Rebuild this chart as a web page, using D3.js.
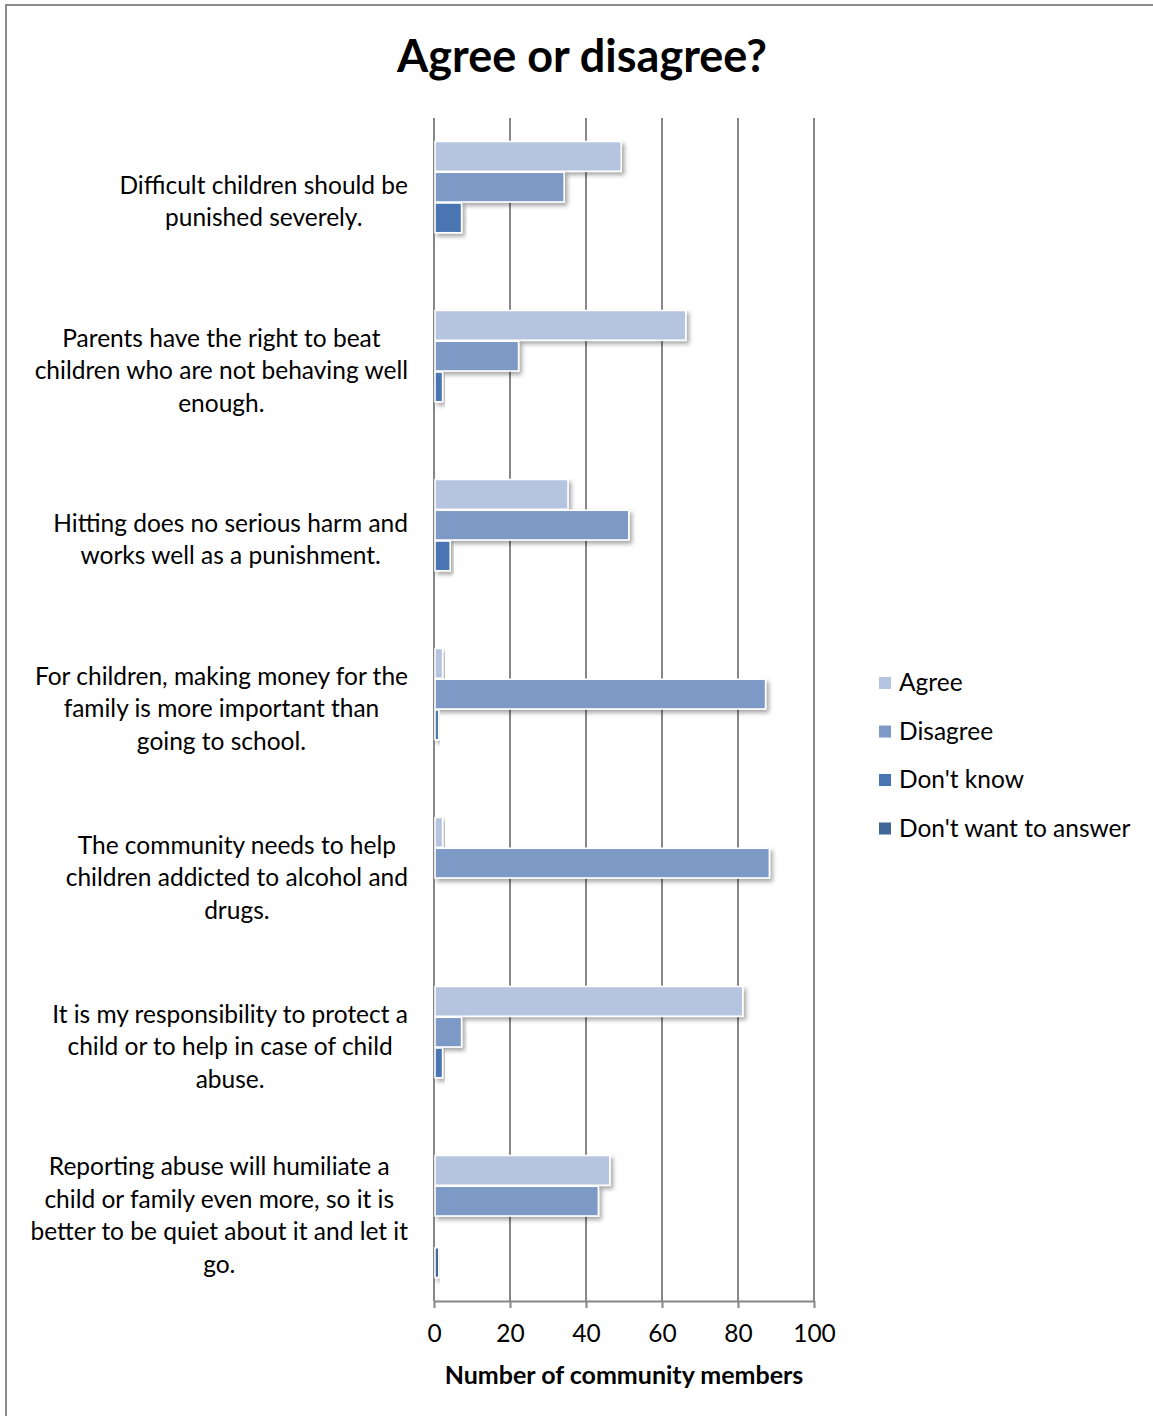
<!DOCTYPE html>
<html>
<head>
<meta charset="utf-8">
<script src="https://cdn.jsdelivr.net/npm/d3@7"></script>
<style>
  html, body { margin: 0; padding: 0; background: #fff; }
  svg { display: block; }
  text { font-family: Lato, "Open Sans", sans-serif; fill: #000; }
</style>
</head>
<body>
<svg id="chart" width="1153" height="1416"></svg>
<script>
// Survey statements (line breaks as shown on the axis)
const categories = [
  "Difficult children should be\npunished severely.",
  "Parents have the right to beat\nchildren who are not behaving well\nenough.",
  "Hitting does no serious harm and\nworks well as a punishment.",
  "For children, making money for the\nfamily is more important than\ngoing to school.",
  "The community needs to help\nchildren addicted to alcohol and\ndrugs.",
  "It is my responsibility to protect a\nchild or to help in case of child\nabuse.",
  "Reporting abuse will humiliate a\nchild or family even more, so it is\nbetter to be quiet about it and let it\ngo."
];
const series = ["Agree", "Disagree", "Don't know", "Don't want to answer"];
const agree = [49, 66, 35, 2, 2, 81, 46];
const disagree = [34, 22, 51, 87, 88, 7, 43];
const dontKnow = [7, 2, 4, 1, 0, 2, 0];
const dontWant = [0, 0, 0, 0, 0, 0, 1];
const xTicks = [0, 20, 40, 60, 80, 100];
const colors = ["#b5c4df", "#7d9ac7", "#4876b2", "#3f6797"];

const seriesValues = [agree, disagree, dontKnow, dontWant];
const fontSize = 24.5;

const svg = d3.select("#chart");

// outer chart frame
svg.append("rect")
  .attr("x", 6).attr("y", 5).attr("width", 1300).attr("height", 1500)
  .attr("fill", "none").attr("stroke", "#8c8c8c").attr("stroke-width", 2);

const defs = svg.append("defs");
const f = defs.append("filter").attr("id", "shadow")
  .attr("x", "-10%").attr("y", "-30%").attr("width", "130%").attr("height", "180%");
f.append("feDropShadow").attr("dx", 2.5).attr("dy", 3).attr("stdDeviation", 2)
  .attr("flood-color", "#000").attr("flood-opacity", 0.35);

const plot = { left: 434, right: 814, top: 118, bottom: 1301 };

const x = d3.scaleLinear().domain([0, 100]).range([plot.left, plot.right]);
const y = d3.scaleBand().domain(categories).range([plot.top, plot.bottom])
  .paddingInner(0.272).paddingOuter(0.136);
const ySub = d3.scaleBand().domain(series).range([0, y.bandwidth()]);

// title
svg.append("text")
  .attr("x", 582).attr("y", 72)
  .attr("text-anchor", "middle")
  .attr("font-size", 45).attr("font-weight", 700)
  .text("Agree or disagree?");

// vertical gridlines
svg.append("g").selectAll("line").data(xTicks).join("line")
  .attr("x1", d => x(d)).attr("x2", d => x(d))
  .attr("y1", plot.top).attr("y2", plot.bottom)
  .attr("stroke", "#878787").attr("stroke-width", 2);

// x axis
const xAxis = svg.append("g")
  .attr("transform", `translate(0,${plot.bottom})`)
  .call(d3.axisBottom(x).tickValues(xTicks).tickSize(7).tickSizeOuter(0).tickPadding(17));
xAxis.select(".domain").attr("stroke", "#878787").attr("stroke-width", 2);
xAxis.selectAll(".tick line").attr("stroke", "#878787").attr("stroke-width", 2);
xAxis.selectAll(".tick text")
  .attr("font-size", fontSize).attr("font-family", "Lato, 'Open Sans', sans-serif").attr("fill", "#000");

svg.append("text")
  .attr("x", (plot.left + plot.right) / 2).attr("y", 1384)
  .attr("text-anchor", "middle")
  .attr("font-size", 25).attr("font-weight", 700)
  .text("Number of community members");

// bars
const bars = svg.append("g");
categories.forEach((c, i) => {
  series.forEach((s, j) => {
    const v = seriesValues[j][i];
    if (v <= 0) return;
    bars.append("rect")
      .attr("x", x(0) + 1)
      .attr("y", y(c) + ySub(s) + 0.5)
      .attr("width", x(v) - x(0))
      .attr("height", ySub.bandwidth() - 1)
      .attr("fill", colors[j])
      .attr("stroke", "#fff").attr("stroke-width", 1.6)
      .attr("filter", "url(#shadow)");
  });
});

// category labels: centred lines, block right-aligned against the axis
const labelRight = 408;
const lineH = 32.5;
const labels = svg.append("g");
categories.forEach(c => {
  const lines = c.split("\n");
  const g = labels.append("g");
  const texts = lines.map(l => g.append("text").attr("font-size", fontSize).text(l));
  const maxW = d3.max(texts, t => t.node().getComputedTextLength());
  const cx = labelRight - maxW / 2;
  const cy = y(c) + y.bandwidth() / 2;
  const firstBase = cy - (lines.length - 1) * lineH / 2 + 7.5;
  texts.forEach((t, k) => t.attr("x", cx).attr("y", firstBase + k * lineH).attr("text-anchor", "middle"));
});

// legend
const legend = svg.append("g").attr("transform", "translate(879,683)");
series.forEach((s, j) => {
  const row = legend.append("g").attr("transform", `translate(0,${j * 48.5})`);
  row.append("rect").attr("x", 0).attr("y", -6).attr("width", 12).attr("height", 12)
    .attr("fill", colors[j]);
  row.append("text").attr("x", 20).attr("y", 8).attr("font-size", fontSize).text(s);
});
</script>
</body>
</html>
